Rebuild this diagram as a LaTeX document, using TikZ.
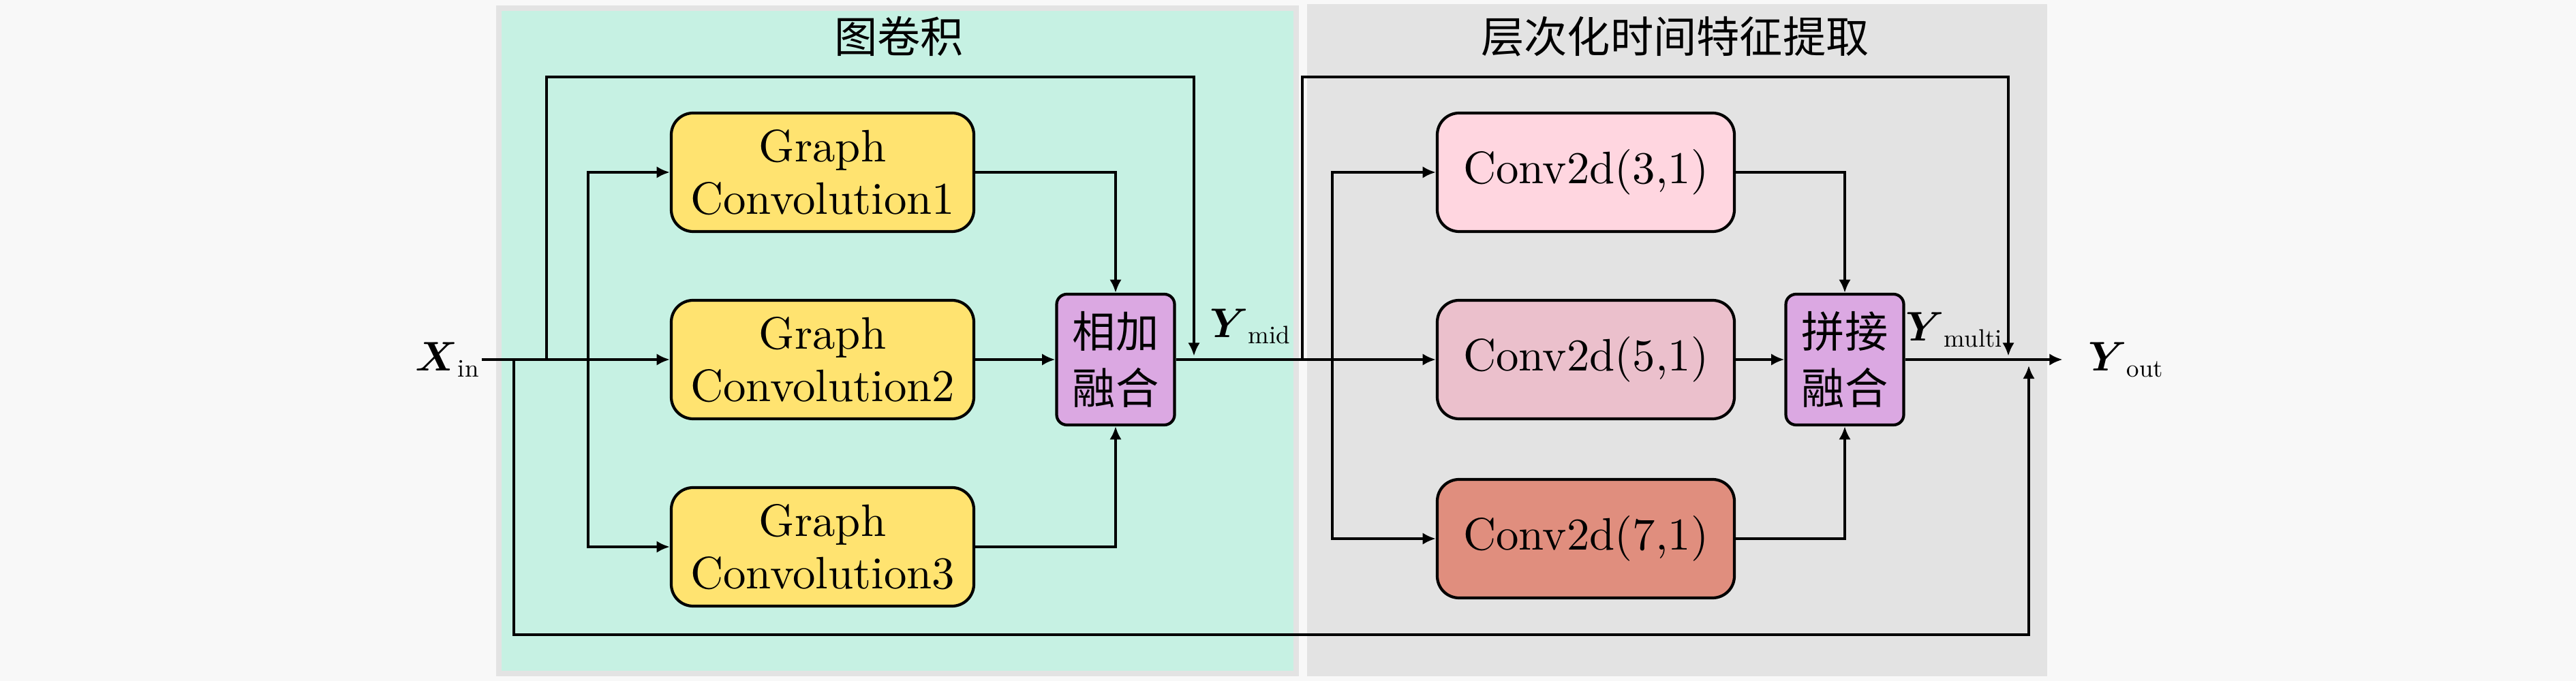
\documentclass[tikz,border=0pt]{standalone}
\usepackage{amsmath}
\usepackage{fontspec}
\setmainfont{lmroman10-regular.otf}
\newfontfamily\cjk{Noto Sans CJK SC}
\usetikzlibrary{positioning,arrows.meta}
\tikzset{>={Latex[length=5.5pt,width=5pt]}}
\definecolor{bgpage}{RGB}{248,248,248}
\definecolor{panelgreen}{RGB}{198,241,227}
\definecolor{panelgray}{RGB}{227,227,227}
\definecolor{gcyellow}{RGB}{255,227,112}
\definecolor{fusepurple}{RGB}{219,168,226}
\definecolor{convpinka}{RGB}{255,214,224}
\definecolor{convpinkb}{RGB}{235,192,204}
\definecolor{convsalmon}{RGB}{224,142,126}
\newcommand{\bigtxt}{\fontsize{18}{22}\selectfont}
\newcommand{\boxtxt}{\fontsize{19}{22}\selectfont}
\newcommand{\sublbl}[1]{\mbox{\fontsize{10.5}{12}\selectfont #1}}
\tikzstyle{gcbox}=[draw=black,line width=1.2pt,rounded corners=0.32cm,fill=gcyellow,minimum width=4.44cm,minimum height=1.74cm,align=center,font=\boxtxt]
\tikzstyle{convbox}=[gcbox,minimum width=4.36cm]
\tikzstyle{fuse}=[draw=black,line width=1.2pt,rounded corners=0.15cm,fill=fusepurple,minimum width=1.73cm,minimum height=1.92cm,align=center,font=\fontsize{18}{23.5}\selectfont\cjk]
\tikzstyle{sig}=[font=\bigtxt,inner sep=0.5pt]
\tikzstyle{wire}=[line width=1.2pt]

\begin{document}
\begin{tikzpicture}[node distance=2.75cm]
	\path[use as bounding box,fill=bgpage] (0,0) rectangle (37.8,-10);
	% two panels
	\draw[fill=panelgreen,draw=panelgray,line width=0.08cm] (7.32,-0.12) rectangle (19.02,-9.89);
	\fill[panelgray] (19.18,-0.06) rectangle (30.04,-9.93);
	\node[font=\bigtxt\cjk] (gtitle) at (13.19,-0.53) {图卷积};
	\node[font=\bigtxt\cjk] (htitle) at (24.58,-0.54) {层次化时间特征提取};

	\node[gcbox] (gc2) at (12.07,-5.28) {Graph\\Convolution2};
	\node[gcbox] (gc1) [above of=gc2] {Graph\\Convolution1};
	\node[gcbox] (gc3) [below of=gc2] {Graph\\Convolution3};
	\node[fuse] (add) at (16.37,-5.28) {相加\\融合};

	\node[convbox,fill=convpinkb] (conv5) at (23.27,-5.28) {Conv2d(5,1)};
	\node[convbox,fill=convpinka] (conv3) [above of=conv5] {Conv2d(3,1)};
	\node[convbox,fill=convsalmon] (conv7) [below of=conv5,yshift=0.12cm] {Conv2d(7,1)};
	\node[fuse] (cat) at (27.07,-5.28) {拼接\\融合};

	\node[sig] (xin) at (6.57,-5.28) {$\boldsymbol{X}_{\sublbl{in}}$};
	\node[sig] (ymid) at (18.35,-4.79) {$\boldsymbol{Y}_{\sublbl{mid}}$};
	\node[sig] (ymulti) at (28.68,-4.84) {$\boldsymbol{Y}_{\sublbl{multi}}$};
	\node[sig] (yout) at (31.2,-5.28) {$\boldsymbol{Y}_{\sublbl{out}}$};

	\coordinate (jskip) at (7.54,-5.28);
	\coordinate (jloop) at (8.02,-5.28);
	\coordinate (jbr) at (8.63,-5.28);
	\coordinate (ltop) at (17.52,-1.13);
	\coordinate (lend) at (17.52,-5.28);
	\coordinate (jloopb) at (19.11,-5.28);
	\coordinate (jbrb) at (19.55,-5.28);
	\coordinate (ltopb) at (29.47,-1.13);
	\coordinate (lendb) at (29.47,-5.28);
	\coordinate (sbot) at (29.77,-9.32);
	\coordinate (send) at (29.77,-5.28);

	% graph convolution part
	\draw[wire,->] (xin) -- (gc2);
	\draw[wire,->,shorten >=1.5pt] (jloop) |- (ltop) -- (lend);
	\draw[wire,->,shorten >=2.5pt] (jskip) |- (sbot) -- (send);
	\draw[wire,->] (jbr) |- (gc1);
	\draw[wire,->] (jbr) |- (gc3);
	\draw[wire,->] (gc1) -| (add);
	\draw[wire,->] (gc3) -| (add);
	\draw[wire,->] (gc2) -- (add);

	% temporal part
	\draw[wire,->] (add) -- (conv5);
	\draw[wire,->,shorten >=1.5pt] (jloopb) |- (ltopb) -- (lendb);
	\draw[wire,->] (jbrb) |- (conv3);
	\draw[wire,->] (jbrb) |- (conv7);
	\draw[wire,->] (conv3) -| (cat);
	\draw[wire,->] (conv7) -| (cat);
	\draw[wire,->] (conv5) -- (cat);
	\draw[wire,->,shorten >=10pt] (cat) -- (yout);
\end{tikzpicture}
\end{document}
